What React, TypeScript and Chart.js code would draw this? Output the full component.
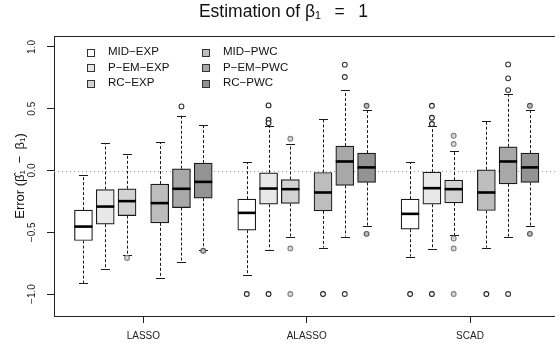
import { useEffect, useRef } from 'react';
import { Chart, registerables } from 'chart.js';
Chart.register(...registerables);

const categories = ['LASSO', 'ALASSO', 'SCAD'];
const methods = ['MID−EXP', 'P−EM−EXP', 'RC−EXP', 'MID−PWC', 'P−EM−PWC', 'RC−PWC'];
const yTicks = [-1, -0.5, 0, 0.5, 1];
const yTickLabels = ['−1.0', '−0.5', '0.0', '0.5', '1.0'];

// each row: one method, values for [LASSO, ALASSO, SCAD]
const whiskerLow = [
  [-0.91, -0.845, -0.697],
  [-0.794, -0.64, -0.637],
  [-0.683, -0.54, -0.525],
  [-0.87, -0.624, -0.624],
  [-0.743, -0.535, -0.535],
  [-0.643, -0.446, -0.446],
];
const q1 = [
  [-0.567, -0.483, -0.475],
  [-0.435, -0.273, -0.273],
  [-0.365, -0.267, -0.262],
  [-0.424, -0.327, -0.324],
  [-0.3, -0.121, -0.108],
  [-0.224, -0.097, -0.097],
];
const median = [
  [-0.454, -0.343, -0.351],
  [-0.292, -0.146, -0.143],
  [-0.248, -0.151, -0.151],
  [-0.264, -0.178, -0.178],
  [-0.148, 0.073, 0.073],
  [-0.092, 0.025, 0.025],
];
const q3 = [
  [-0.321, -0.232, -0.232],
  [-0.154, -0.019, -0.013],
  [-0.148, -0.073, -0.078],
  [-0.11, -0.016, 0.006],
  [0.014, 0.198, 0.192],
  [0.06, 0.141, 0.141],
];
const whiskerHigh = [
  [-0.037, 0.068, 0.068],
  [0.222, 0.362, 0.36],
  [0.135, 0.214, 0.157],
  [0.227, 0.416, 0.4],
  [0.443, 0.648, 0.619],
  [0.37, 0.492, 0.492],
];
const outliers = [
  [[], [-1.0], [-1.0]],
  [[], [0.527, 0.411, 0.384, -1.0], [0.524, 0.427, 0.376, -1.0]],
  [[-0.708], [0.257, -0.632, -1.0], [0.281, 0.214, -0.55, -0.632, -1.0]],
  [[], [-1.0], [-1.0]],
  [[0.519], [0.857, 0.757, -1.0], [0.859, 0.746, 0.651, -1.0]],
  [[-0.65], [0.524, -0.513], [0.524, -0.513]],
];

const fills = ['#ffffff', '#e8e8e8', '#d2d2d2', '#bdbdbd', '#a8a8a8', '#939393'];
const outlierStroke = ['#222222', '#222222', '#808080', '#222222', '#333333', '#555555'];
const outlierFill = ['#ffffff', '#ffffff', '#d8d8d8', '#ffffff', '#ffffff', '#bbbbbb'];

const SLOT = 22 / 165;
const slotIdx = [-2.75, -1.75, -0.75, 0.75, 1.75, 2.75];
const posOf = (m: number, g: number) => g + slotIdx[m] * SLOT;
const BOX_W = 18;
const FONT = "'Liberation Sans', Arial, Helvetica, sans-serif";

const boxPlugin = {
  id: 'boxExtras',
  beforeDatasetsDraw(chart: any) {
    const { ctx, chartArea, scales } = chart;
    const xs = scales.x;
    const ys = scales.y;
    ctx.save();
    ctx.strokeStyle = '#9a9a9a';
    ctx.lineWidth = 1;
    ctx.setLineDash([1, 3]);
    const y0 = Math.round(ys.getPixelForValue(0)) + 0.5;
    ctx.beginPath();
    ctx.moveTo(chartArea.left, y0);
    ctx.lineTo(chartArea.right, y0);
    ctx.stroke();
    ctx.strokeStyle = '#1a1a1a';
    for (let m = 0; m < methods.length; m++) {
      for (let g = 0; g < categories.length; g++) {
        const x = Math.round(xs.getPixelForValue(posOf(m, g))) + 0.5;
        const yHi = ys.getPixelForValue(whiskerHigh[m][g]);
        const yQ3 = ys.getPixelForValue(q3[m][g]);
        const yQ1 = ys.getPixelForValue(q1[m][g]);
        const yLo = ys.getPixelForValue(whiskerLow[m][g]);
        ctx.setLineDash([3, 2]);
        ctx.beginPath();
        ctx.moveTo(x, yQ3);
        ctx.lineTo(x, yHi);
        ctx.moveTo(x, yQ1);
        ctx.lineTo(x, yLo);
        ctx.stroke();
        ctx.setLineDash([]);
        ctx.beginPath();
        ctx.moveTo(x - BOX_W / 4, Math.round(yHi) + 0.5);
        ctx.lineTo(x + BOX_W / 4, Math.round(yHi) + 0.5);
        ctx.moveTo(x - BOX_W / 4, Math.round(yLo) + 0.5);
        ctx.lineTo(x + BOX_W / 4, Math.round(yLo) + 0.5);
        ctx.stroke();
      }
    }
    ctx.restore();
  },
  afterDatasetsDraw(chart: any) {
    const { ctx, chartArea, scales } = chart;
    const xs = scales.x;
    const ys = scales.y;
    ctx.save();
    ctx.strokeStyle = '#000000';
    ctx.lineWidth = 2.6;
    for (let m = 0; m < methods.length; m++) {
      for (let g = 0; g < categories.length; g++) {
        const x = xs.getPixelForValue(posOf(m, g));
        const y = ys.getPixelForValue(median[m][g]);
        ctx.beginPath();
        ctx.moveTo(x - BOX_W / 2, y);
        ctx.lineTo(x + BOX_W / 2, y);
        ctx.stroke();
      }
    }
    ctx.lineWidth = 1;
    ctx.strokeStyle = '#222222';
    ctx.beginPath();
    ctx.moveTo(chartArea.left, chartArea.top + 0.5);
    ctx.lineTo(chartArea.right, chartArea.top + 0.5);
    ctx.stroke();
    const colX = [chartArea.left + 36, chartArea.left + 151];
    const rowY = [chartArea.top + 16, chartArea.top + 31.5, chartArea.top + 47];
    ctx.font = `11.5px ${FONT}`;
    ctx.textBaseline = 'middle';
    ctx.textAlign = 'left';
    methods.forEach((name, m) => {
      const c = Math.floor(m / 3);
      const r = m % 3;
      const cx = colX[c];
      const cy = rowY[r];
      ctx.fillStyle = fills[m];
      ctx.fillRect(Math.round(cx - 3.5), Math.round(cy - 3.5), 7, 7);
      ctx.strokeStyle = '#333333';
      ctx.lineWidth = 1;
      ctx.strokeRect(Math.round(cx - 3.5) + 0.5, Math.round(cy - 3.5) + 0.5, 7, 7);
      ctx.fillStyle = '#111111';
      ctx.fillText(name, cx + 18, cy);
    });
    ctx.restore();
  },
};

export default function App() {
  const ref = useRef<HTMLCanvasElement>(null);
  useEffect(() => {
    if (!ref.current) return;
    Chart.defaults.font.family = FONT;
    const barSets = methods.map((name, m) => ({
      type: 'bar' as const,
      label: name,
      data: categories.map((_, g) => ({ x: posOf(m, g), y: [q1[m][g], q3[m][g]] })),
      backgroundColor: fills[m],
      borderColor: '#1a1a1a',
      borderWidth: 1.2,
      borderSkipped: false,
      barThickness: BOX_W,
      grouped: false,
      order: 2,
    }));
    const outSets = methods.map((name, m) => ({
      type: 'scatter' as const,
      label: name + ' outliers',
      data: categories.flatMap((_, g) => outliers[m][g].map((v) => ({ x: posOf(m, g), y: v }))),
      pointRadius: 2.4,
      pointBorderWidth: 1.1,
      pointBorderColor: outlierStroke[m],
      pointBackgroundColor: outlierFill[m],
      showLine: false,
      order: 1,
    }));
    const chart = new Chart(ref.current, {
      type: 'bar',
      data: { datasets: [...barSets, ...outSets] as any },
      options: {
        responsive: false,
        animation: false,
        devicePixelRatio: 1,
        layout: { padding: { left: 7, right: 0, top: 0, bottom: 0 } },
        plugins: {
          legend: { display: false },
          tooltip: { enabled: false },
          title: {
            display: true,
            text: 'Estimation of β₁\u2002 =\u2002 1',
            font: { size: 17.5, weight: 'normal' as any, family: FONT },
            color: '#111111',
            padding: { top: 2, bottom: 13 },
          },
        },
        scales: {
          x: {
            type: 'linear',
            offset: false,
            min: -0.547,
            max: 2.5197,
            afterBuildTicks: (s: any) => {
              s.ticks = categories.map((_, i) => ({ value: i }));
            },
            afterFit: (s: any) => {
              s.height = 34;
            },
            ticks: {
              callback: (v: any) => categories[Math.round(Number(v))] ?? '',
              autoSkip: false,
              maxRotation: 0,
              font: { size: 10 },
              color: '#222222',
              padding: 7,
            },
            grid: { offset: false, drawOnChartArea: false, drawTicks: true, tickLength: 7, color: '#222222' },
            border: { display: true, color: '#222222' },
          },
          y: {
            type: 'linear',
            min: -1.178,
            max: 1.089,
            afterBuildTicks: (s: any) => {
              s.ticks = yTicks.map((v) => ({ value: v }));
            },
            afterFit: (s: any) => {
              s.width = 47;
            },
            ticks: {
              callback: (v: any) => yTickLabels[yTicks.indexOf(Number(v))] ?? '',
              minRotation: 90,
              maxRotation: 90,
              crossAlign: 'center',
              padding: 5,
              font: { size: 10 },
              color: '#222222',
            },
            grid: { drawOnChartArea: false, drawTicks: true, tickLength: 7, color: '#222222' },
            border: { display: true, color: '#222222' },
            title: {
              display: true,
              text: 'Error (β̂₁\u2002−\u2002β₁)',
              font: { size: 13 },
              color: '#111111',
              padding: { top: 6, bottom: 0 },
            },
          },
        },
      },
      plugins: [boxPlugin],
    });
    return () => chart.destroy();
  }, []);
  return (
    <div style={{ position: 'absolute', left: 0, top: 0, width: 560, height: 350 }}>
      <canvas ref={ref} width={560} height={350} />
    </div>
  );
}
